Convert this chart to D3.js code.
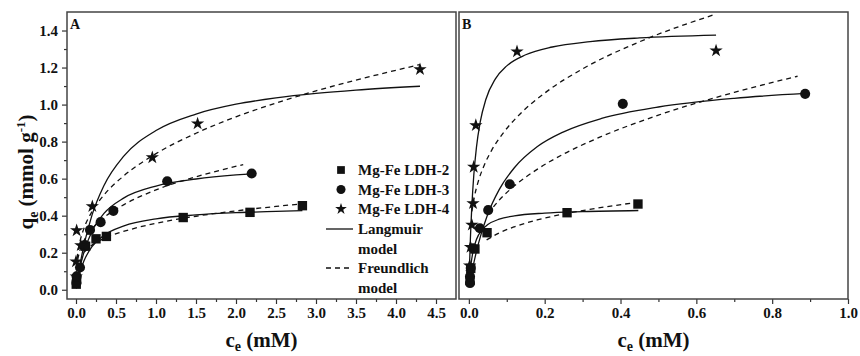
<!DOCTYPE html>
<html><head><meta charset="utf-8">
<script src="https://cdn.jsdelivr.net/npm/d3@7"></script>
<style>
body{margin:0;background:#fff}
svg text{font-family:"Liberation Serif","Times New Roman",serif;font-weight:bold;fill:#111}
</style>
</head><body>
<svg id="chart" width="860" height="356"></svg>
<script>
// ---------- data: [c_e (mM), q_e (mmol/g)] ----------
// Panel A
const ldh2A = [[0.003,0.03],[0.008,0.055],[0.12,0.235],[0.25,0.275],[0.38,0.288],[1.34,0.39],[2.175,0.418],[2.83,0.454]];
const ldh3A = [[0.005,0.036],[0.008,0.072],[0.05,0.12],[0.11,0.242],[0.175,0.323],[0.308,0.365],[0.467,0.426],[1.14,0.586],[2.196,0.628]];
const ldh4A = [[0.003,0.07],[0.0,0.152],[0.06,0.24],[0.008,0.32],[0.204,0.45],[0.954,0.714],[1.52,0.897],[4.3,1.19]];
const langmuir2A = [[0.003,0.007],[0.02,0.043],[0.05,0.094],[0.1,0.156],[0.2,0.233],[0.35,0.294],[0.6,0.345],[1.0,0.383],[1.5,0.404],[2.0,0.416],[2.5,0.423],[2.83,0.427]];
const freundlich2A = [[0.1,0.203],[0.2,0.241],[0.4,0.286],[0.7,0.328],[1.0,0.359],[1.5,0.397],[2.0,0.426],[2.5,0.450],[2.83,0.464]];
const langmuir3A = [[0.003,0.009],[0.02,0.053],[0.05,0.12],[0.1,0.204],[0.2,0.316],[0.35,0.412],[0.6,0.496],[1.0,0.56],[1.5,0.598],[2.0,0.62],[2.2,0.626]];
const freundlich3A = [[0.02,0.162],[0.05,0.214],[0.1,0.265],[0.2,0.328],[0.35,0.39],[0.6,0.46],[1.0,0.539],[1.5,0.61],[2.09,0.676]];
const langmuir4A = [[0.003,0.009],[0.02,0.058],[0.05,0.135],[0.1,0.242],[0.2,0.403],[0.35,0.563],[0.6,0.723],[1.0,0.86],[1.5,0.949],[2.0,1.002],[2.5,1.036],[3.0,1.06],[3.5,1.078],[4.3,1.099]];
const freundlich4A = [[0.005,0.118],[0.02,0.191],[0.05,0.261],[0.1,0.332],[0.2,0.422],[0.35,0.512],[0.6,0.616],[1.0,0.735],[1.5,0.845],[2.0,0.934],[2.5,1.008],[3.0,1.074],[3.5,1.132],[4.3,1.216]];
// Panel B
const ldh2B = [[0.003,0.05],[0.005,0.115],[0.016,0.22],[0.048,0.308],[0.259,0.416],[0.446,0.463]];
const ldh3B = [[0.003,0.036],[0.003,0.072],[0.005,0.117],[0.011,0.224],[0.029,0.332],[0.051,0.43],[0.108,0.57],[0.406,1.004],[0.887,1.058]];
const ldh4B = [[0.002,0.13],[0.0044,0.23],[0.0079,0.35],[0.011,0.466],[0.0128,0.663],[0.0184,0.888],[0.127,1.286],[0.652,1.291]];
const langmuir2B = [[0.001,0.033],[0.005,0.126],[0.01,0.196],[0.02,0.271],[0.035,0.324],[0.05,0.352],[0.08,0.381],[0.12,0.399],[0.2,0.414],[0.3,0.422],[0.447,0.428]];
const freundlich2B = [[0.047,0.269],[0.08,0.307],[0.12,0.34],[0.18,0.377],[0.25,0.409],[0.34,0.441],[0.44,0.471]];
const langmuir3B = [[0.002,0.025],[0.01,0.114],[0.025,0.248],[0.05,0.409],[0.08,0.541],[0.12,0.659],[0.18,0.772],[0.25,0.853],[0.35,0.925],[0.5,0.987],[0.7,1.034],[0.889,1.06]];
const freundlich3B = [[0.05,0.408],[0.08,0.484],[0.12,0.561],[0.18,0.65],[0.25,0.733],[0.35,0.828],[0.5,0.943],[0.7,1.066],[0.867,1.153]];
const langmuir4B = [[0.001,0.08],[0.004,0.273],[0.008,0.457],[0.013,0.618],[0.02,0.769],[0.03,0.906],[0.045,1.029],[0.07,1.139],[0.1,1.209],[0.15,1.269],[0.22,1.311],[0.32,1.34],[0.45,1.36],[0.652,1.375]];
const freundlich4B = [[0.008,0.423],[0.015,0.506],[0.025,0.586],[0.04,0.67],[0.06,0.753],[0.09,0.845],[0.13,0.939],[0.2,1.062],[0.3,1.193],[0.45,1.339],[0.652,1.489]];

// ticks
const xMajorA = [0,0.5,1,1.5,2,2.5,3,3.5,4,4.5];
const xMinorA = [0.25,0.75,1.25,1.75,2.25,2.75,3.25,3.75,4.25];
const xMajorB = [0,0.2,0.4,0.6,0.8,1.0];
const xMinorB = [0.1,0.3,0.5,0.7,0.9];
const yMajor = [0,0.2,0.4,0.6,0.8,1.0,1.2,1.4];
const yMinor = [0.1,0.3,0.5,0.7,0.9,1.1,1.3];
const legendLabels = ["Mg-Fe LDH-2","Mg-Fe LDH-3","Mg-Fe LDH-4"];

// ---------- drawing ----------
const svg = d3.select('#chart');
const y = d3.scaleLinear().domain([-0.05,1.5]).range([299,12]);
const fmt = d3.format('.1f');
const ink = '#111';

const symSquare = d3.symbol().type(d3.symbolSquare).size(88);
const symCircle = d3.symbol().type(d3.symbolCircle).size(80);
const symStar = d3.symbol().type(d3.symbolStar).size(55);

const panels = [
  {id:'A', x:d3.scaleLinear().domain([-0.1125,4.75]).range([67,456]), major:xMajorA, minor:xMinorA, yAxis:true,
   pts:[[ldh2A,symSquare],[ldh3A,symCircle],[ldh4A,symStar]],
   solid:[langmuir2A,langmuir3A,langmuir4A], dashed:[freundlich2A,freundlich3A,freundlich4A]},
  {id:'B', x:d3.scaleLinear().domain([-0.026,1.0]).range([459,848]), major:xMajorB, minor:xMinorB, yAxis:false,
   pts:[[ldh2B,symSquare],[ldh3B,symCircle],[ldh4B,symStar]],
   solid:[langmuir2B,langmuir3B,langmuir4B], dashed:[freundlich2B,freundlich3B,freundlich4B]}
];

const defs = svg.append('defs');

panels.forEach(p => {
  const x = p.x;
  const [x0,x1] = x.range();
  const [yb,yt] = y.range();
  const g = svg.append('g');
  defs.append('clipPath').attr('id','clip'+p.id)
    .append('rect').attr('x',x0).attr('y',yt).attr('width',x1-x0).attr('height',yb-yt);

  // x axis
  const ax = g.append('g').attr('transform',`translate(0,${yb})`)
    .call(d3.axisBottom(x).tickValues(p.major).tickSize(5).tickPadding(3).tickFormat(fmt));
  const axm = g.append('g').attr('transform',`translate(0,${yb})`)
    .call(d3.axisBottom(x).tickValues(p.minor).tickSize(3).tickFormat(''));
  [ax,axm].forEach(a => { a.select('.domain').remove(); a.selectAll('line').attr('stroke','#333').attr('stroke-width',1.2); a.attr('font-family',null).attr('font-size',null); });
  ax.selectAll('text').attr('font-size',15).attr('fill',ink);

  if (p.yAxis) {
    const ay = g.append('g').attr('transform',`translate(${x0},0)`)
      .call(d3.axisLeft(y).tickValues(yMajor).tickSize(5).tickPadding(4).tickFormat(fmt));
    const aym = g.append('g').attr('transform',`translate(${x0},0)`)
      .call(d3.axisLeft(y).tickValues(yMinor).tickSize(3).tickFormat(''));
    [ay,aym].forEach(a => { a.select('.domain').remove(); a.selectAll('line').attr('stroke','#333').attr('stroke-width',1.2); a.attr('font-family',null).attr('font-size',null); });
    ay.selectAll('text').attr('font-size',15).attr('fill',ink);
  }

  // curves
  const line = d3.line().x(d=>x(d[0])).y(d=>y(d[1])).curve(d3.curveMonotoneX);
  const cg = g.append('g').attr('clip-path',`url(#clip${p.id})`);
  p.solid.forEach(s => cg.append('path').attr('d',line(s)).attr('fill','none').attr('stroke',ink).attr('stroke-width',1.3));
  p.dashed.forEach(s => cg.append('path').attr('d',line(s)).attr('fill','none').attr('stroke',ink).attr('stroke-width',1.3).attr('stroke-dasharray','5,4'));

  // markers
  p.pts.forEach(([data,sym]) => {
    cg.selectAll(null).data(data).join('path')
      .attr('d',sym).attr('transform',d=>`translate(${x(d[0])},${y(d[1])})`).attr('fill',ink);
  });

  // frame
  g.append('rect').attr('x',x0).attr('y',yt).attr('width',x1-x0).attr('height',yb-yt)
    .attr('fill','none').attr('stroke','#444').attr('stroke-width',1.5);

  // panel letter
  g.append('text').attr('x',x0+3).attr('y',yt+17).attr('font-size',14).text(p.id);

  // x label
  const xl = g.append('text').attr('x',(x0+x1)/2).attr('y',347).attr('text-anchor','middle').attr('font-size',21);
  xl.append('tspan').text('c');
  xl.append('tspan').attr('font-size',14).attr('dy',4).text('e');
  xl.append('tspan').attr('dy',-4).text(' (mM)');
});

// y label
const yl = svg.append('text').attr('transform','translate(33,172) rotate(-90)').attr('text-anchor','middle').attr('font-size',21);
yl.append('tspan').text('q');
yl.append('tspan').attr('font-size',14).attr('dy',5).text('e');
yl.append('tspan').attr('dy',-5).text(' (mmol g');
yl.append('tspan').attr('font-size',13).attr('dy',-8).text('-1');
yl.append('tspan').attr('dy',8).text(')');

// legend
const lg = svg.append('g');
const legSyms = [d3.symbol().type(d3.symbolSquare).size(60), d3.symbol().type(d3.symbolCircle).size(64), d3.symbol().type(d3.symbolStar).size(42)];
legendLabels.forEach((t,i) => {
  const cy = 170 + i*19.5;
  lg.append('path').attr('d',legSyms[i]).attr('transform',`translate(341,${cy})`).attr('fill',ink);
  lg.append('text').attr('x',358).attr('y',cy+5).attr('font-size',15).text(t);
});
const lines = [["Langmuir","model",null],["Freundlich","model","5,4"]];
lines.forEach((l,i) => {
  const cy = 229 + i*39;
  lg.append('line').attr('x1',326).attr('x2',353).attr('y1',cy).attr('y2',cy).attr('stroke',ink).attr('stroke-width',1.3).attr('stroke-dasharray',l[2]);
  lg.append('text').attr('x',358).attr('y',cy+5).attr('font-size',15).text(l[0]);
  lg.append('text').attr('x',358).attr('y',cy+24.5).attr('font-size',15).text(l[1]);
});
</script>
</body></html>
